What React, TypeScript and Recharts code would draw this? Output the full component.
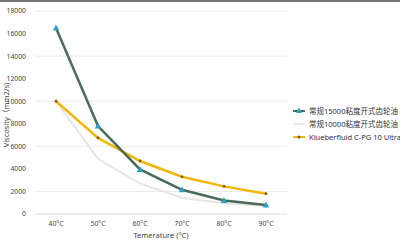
import React from 'react';
import { LineChart, Line, XAxis, YAxis, CartesianGrid } from 'recharts';

const temps = ['40°C', '50°C', '60°C', '70°C', '80°C', '90°C'];
const oil15000 = [16500, 7800, 3950, 2150, 1200, 800];
const oil10000 = [10000, 4900, 2700, 1450, 950, 700];
const klueber = [10000, 6750, 4700, 3300, 2450, 1800];
const yTicks = [0, 2000, 4000, 6000, 8000, 10000, 12000, 14000, 16000, 18000];

const seriesNames = ['常规15000粘度开式齿轮油', '常规10000粘度开式齿轮油', 'Klueberfluid C-PG 10 Ultra'];

const data = temps.map((t, i) => ({
  temp: t,
  a: oil15000[i],
  b: oil10000[i],
  c: klueber[i],
}));

const GREEN = '#4b6b58';
const TEAL = '#2a9fc0';
const GRAY = '#e6e6e6';
const GOLD = '#f2b705';
const FONT = '"Noto Sans", "Noto Sans CJK SC", sans-serif';

function TriangleDot(props: any) {
  const { cx, cy } = props;
  if (cx == null || cy == null) return null;
  return <polygon points={`${cx},${cy - 3.5} ${cx - 3.2},${cy + 2.5} ${cx + 3.2},${cy + 2.5}`} fill={TEAL} />;
}

function SideLegend() {
  const row = (icon: React.ReactNode, text: string) => (
    <div style={{ display: 'flex', alignItems: 'center', height: 13 }}>
      <svg width={13} height={8} style={{ marginRight: 3 }}>
        {icon}
      </svg>
      <span>{text}</span>
    </div>
  );
  return (
    <div style={{ fontFamily: FONT, fontSize: 7.5, color: '#333', whiteSpace: 'nowrap' }}>
      {row(
        <>
          <line x1={0} y1={4} x2={12} y2={4} stroke={GREEN} strokeWidth={2} />
          <polygon points="6,0.5 3,6 9,6" fill={TEAL} />
        </>,
        seriesNames[0]
      )}
      {row(<line x1={0} y1={4} x2={12} y2={4} stroke={GRAY} strokeWidth={1.5} />, seriesNames[1])}
      {row(
        <>
          <line x1={0} y1={4} x2={12} y2={4} stroke={GOLD} strokeWidth={2} />
          <circle cx={6} cy={4} r={1.5} fill="#7a5c14" />
        </>,
        seriesNames[2]
      )}
    </div>
  );
}

const axisTitle: React.CSSProperties = {
  position: 'absolute',
  fontFamily: FONT,
  fontSize: 7.5,
  color: '#444',
  whiteSpace: 'nowrap',
  lineHeight: 1,
};

const tickStyle = { fontSize: 6.8, fill: '#444', fontFamily: FONT };

export default function App() {
  return (
    <div style={{ position: 'fixed', left: 0, top: 0, width: 400, height: 240, background: '#fff', overflow: 'hidden' }}>
      <LineChart width={400} height={240} data={data} margin={{ top: 11, right: 113, bottom: 0, left: 0 }}>
        <CartesianGrid vertical={false} stroke="#e4e4e4" strokeWidth={0.8} />
        <XAxis
          dataKey="temp"
          height={26}
          padding={{ left: 21, right: 21 }}
          axisLine={{ stroke: '#e4e4e4' }}
          tickLine={false}
          tick={tickStyle}
          tickMargin={1}
        />
        <YAxis
          width={35}
          domain={[0, 18000]}
          ticks={yTicks}
          axisLine={false}
          tickLine={false}
          tick={tickStyle}
          tickMargin={3}
        />
        <Line dataKey="b" stroke={GRAY} strokeWidth={2} dot={false} isAnimationActive={false} />
        <Line dataKey="c" stroke={GOLD} strokeWidth={2.5} dot={{ r: 1.4, fill: '#7a5c14', stroke: 'none' }} isAnimationActive={false} />
        <Line dataKey="a" stroke={GREEN} strokeWidth={2.5} dot={<TriangleDot />} isAnimationActive={false} />
      </LineChart>
      <div style={{ position: 'absolute', left: 0, top: 0, width: 400, height: 2, background: '#777' }} />
      <div style={{ position: 'absolute', left: 293, top: 104 }}>
        <SideLegend />
      </div>
      <div style={{ ...axisTitle, left: 161, top: 232, transform: 'translateX(-50%)' }}>Temerature (°C)</div>
      <div style={{ ...axisTitle, left: 7, top: 115, transform: 'translate(-50%, -50%) rotate(-90deg)' }}>Viscosity（mm2/s)</div>
    </div>
  );
}
